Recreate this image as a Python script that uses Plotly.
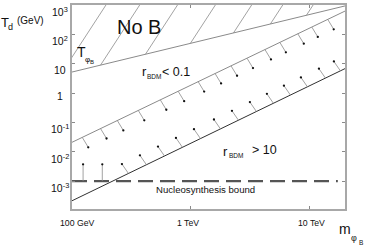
import numpy as np
import plotly.graph_objects as go

# ---------------- data ----------------
mass_ends = [100, 20000]            # GeV, ends of the boundary lines
T_phiB = [5.2, 930]                 # T_{phi_B} line (edge of "No B")
T_r01 = [0.021, 620]                # r_BDM = 0.1 boundary
T_r10 = [0.000214, 6.8]             # r_BDM = 10 boundary
T_bbn = 1e-3                        # nucleosynthesis bound
bbn_mass = [100, 17400]
hatch_mass = [80, 174, 416, 995, 2296, 4700, 9460]
arrow_mass_upper = [122, 174, 241, 362, 555, 785, 1157, 1607, 2190, 2985,
                    4230, 5650, 8000, 10500, 14300]
arrow_mass_lower = [299, 424, 602, 853, 1210, 1783, 2529, 3583, 4985, 6934,
                    9642, 13680, 18290]
arrow_mass_bbn = [124, 180]
y_tick_vals = [1e3, 1e2, 10, 1, 0.1, 0.01, 0.001]
y_tick_text = ['10<sup>3</sup>', '10<sup>2</sup>', '10', '1',
               '10<sup>-1</sup>', '10<sup>-2</sup>', '10<sup>-3</sup>']
x_tick_vals = [100, 1000, 10000]
x_tick_text = ['100 GeV', '1 TeV', '10 TeV']

# ---------------- layout geometry ----------------
FW, FH = 369, 249
L, R, T, B = 72, 24, 3, 40
PW, PH = FW - L - R, FH - T - B
XR = [2.0, 4.301]
YR = [-3.95, 3.0]
ppx = PW / (XR[1] - XR[0])
ppy = PH / (YR[1] - YR[0])
FONT = "Liberation Sans, Arial, sans-serif"


def logline(ms, ends_m, ends_t):
    lm = np.log10(ends_m)
    lt = np.log10(ends_t)
    return lt[0] + (np.log10(ms) - lm[0]) * (lt[1] - lt[0]) / (lm[1] - lm[0])


def P(px, py):
    return (px - L) / PW, (FH - B - py) / PH


fig = go.Figure()

# hatch lines above T_phiB
hslope = 6.21
hx, hy = [], []
for m in hatch_mass:
    lm = np.log10(m)
    lt = logline(m, mass_ends, T_phiB)
    hx += [10 ** lm, 10 ** (lm + 0.6), None]
    hy += [10 ** lt, 10 ** (lt + 0.6 * hslope), None]
fig.add_trace(go.Scatter(x=hx, y=hy, mode='lines',
                         line=dict(color='#8a8a8a', width=0.8), hoverinfo='skip'))

# boundary lines
fig.add_trace(go.Scatter(x=mass_ends, y=T_phiB, mode='lines',
                         line=dict(color='#8a8a8a', width=1)))
fig.add_trace(go.Scatter(x=mass_ends, y=T_r01, mode='lines',
                         line=dict(color='#8a8a8a', width=1)))
fig.add_trace(go.Scatter(x=mass_ends, y=T_r10, mode='lines',
                         line=dict(color='#303030', width=1)))
fig.add_trace(go.Scatter(x=bbn_mass, y=[T_bbn, T_bbn], mode='lines',
                         line=dict(color='#555555', width=2.2, dash='15px,7px')))


# arrows (shafts + dot heads)
def arrows(masses, logts, dxp, dyp):
    sx, sy, dx_, dy_ = [], [], [], []
    for m, lt in zip(masses, logts):
        lm = np.log10(m)
        hm = lm + dxp / ppx
        ht = lt - dyp / ppy
        sx += [10 ** lm, 10 ** hm, None]
        sy += [10 ** lt, 10 ** ht, None]
        dx_.append(10 ** hm)
        dy_.append(10 ** ht)
    fig.add_trace(go.Scatter(x=sx, y=sy, mode='lines',
                             line=dict(color='#8a8a8a', width=0.8)))
    fig.add_trace(go.Scatter(x=dx_, y=dy_, mode='markers',
                             marker=dict(color='#111111', size=2.3)))


arrows(arrow_mass_upper, [logline(m, mass_ends, T_r01) for m in arrow_mass_upper], 6, 10)
arrows(arrow_mass_lower, [logline(m, mass_ends, T_r10) for m in arrow_mass_lower], -6.5, -9.5)
arrows(arrow_mass_bbn, [np.log10(T_bbn)] * len(arrow_mass_bbn), 0, -17)

ann = []


def txt(s, px, py, size, font=FONT, xanchor='center'):
    x, y = P(px, py)
    ann.append(dict(text=s, x=x, y=y, xref='paper', yref='paper', showarrow=False,
                    xanchor=xanchor, yanchor='middle',
                    font=dict(family=font, size=size, color='#111111')))


# y tick labels
for v, s in zip(y_tick_vals, y_tick_text):
    ann.append(dict(text=s, x=P(60, 0)[0], y=np.log10(v), xref='paper', yref='y',
                    showarrow=False, xanchor='center', yanchor='middle',
                    yshift=-2.5 if s == '1' else -6.5,
                    font=dict(family=FONT, size=10.5, color='#111111')))
# x tick labels
for v, s, sh in zip(x_tick_vals, x_tick_text, [5, -3, 2]):
    ann.append(dict(text=s, x=np.log10(v), y=0, xref='x', yref='paper',
                    showarrow=False, xanchor='center', yanchor='middle',
                    xshift=sh, yshift=-13.5,
                    font=dict(family=FONT, size=8.7, color='#111111')))

# labels
txt('No B', 138.5, 25.5, 20)
txt('T', 81, 50.5, 14)
txt('φ', 87, 58, 8)
txt('B', 92, 60.5, 6)
txt('r', 144, 70.5, 13)
txt('BDM', 153.5, 75, 6.5)
txt('< 0.1', 176, 71, 12.5)
txt('r', 225.5, 150.5, 13)
txt('BDM', 236, 155, 6.5)
txt('> 10', 264, 149.5, 12.5)
txt('Nucleosynthesis bound', 205, 189.5, 9.6)
# axis titles
txt('T', 5, 20.5, 13)
txt('d', 10.5, 25, 9)
txt('(GeV)', 30, 18.5, 10)
txt('m', 345, 229.5, 14)
txt('φ', 354, 238.5, 9)
txt('B', 360.5, 243, 6.5)

axis_common = dict(showgrid=False, zeroline=False, showline=True, mirror='ticks',
                   ticks='inside', ticklen=3, tickcolor='#8a8a8a',
                   showticklabels=False)
fig.update_layout(
    width=FW, height=FH, margin=dict(l=L, r=R, t=T, b=B, pad=0),
    paper_bgcolor='white', plot_bgcolor='white', showlegend=False,
    hovermode=False,
    xaxis=dict(type='log', range=XR, tickvals=x_tick_vals, linecolor='#a8a8a8',
               linewidth=1.5, **axis_common),
    yaxis=dict(type='log', range=YR, tickvals=y_tick_vals, linecolor='#a8a8a8',
               linewidth=2, **axis_common),
    annotations=ann,
)
fig.write_html("out.html", config={'displayModeBar': False},
               post_script="document.body.style.margin='0';"
                           "document.body.style.overflow='hidden';")
